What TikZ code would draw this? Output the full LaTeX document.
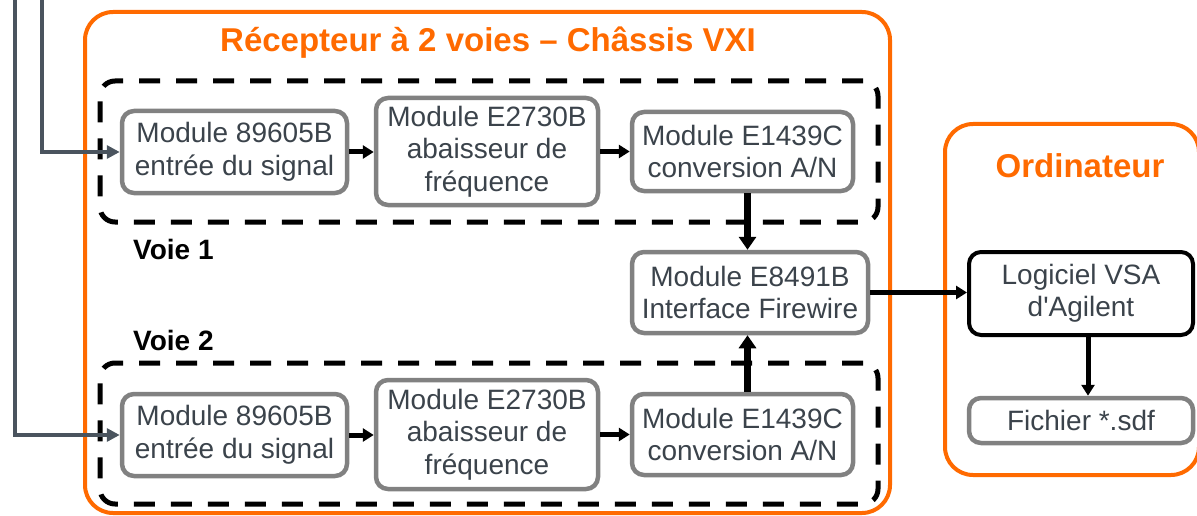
\documentclass[tikz,border=0pt]{standalone}
\usepackage{fontspec}
\setmainfont{Liberation Sans}
\newfontfamily\plainfont{Liberation Sans}
\usetikzlibrary{arrows.meta}
\definecolor{orng}{HTML}{FF6A00}
\definecolor{boxgray}{HTML}{818181}
\definecolor{txtgray}{HTML}{3B434B}
\definecolor{ingray}{HTML}{4A545E}
\tikzset{
  grp/.style={draw=orng, line width=4pt, rounded corners=28pt, inner sep=0pt},
  dashbox/.style={draw=black, line width=5pt, dash pattern=on 21pt off 16pt, rounded corners=15pt, inner sep=0pt},
  mod/.style={draw=boxgray, line width=4.5pt, rounded corners=12pt, fill=white, text=txtgray, align=center, inner sep=0pt, font=\fontsize{28}{32.5}\selectfont},
  soft/.style={mod, draw=black, line width=4pt},
  ttl/.style={text=orng, font=\fontsize{33}{38}\selectfont\bfseries, inner sep=0pt, anchor=base},
  voie/.style={text=black, font=\fontsize{28}{32}\selectfont\bfseries, inner sep=0pt, anchor=base west},
  flow/.style={draw=black, line width=5pt, -{Triangle[length=11pt,width=13pt]}},
  bigflow/.style={draw=black, line width=7pt, -{Triangle[length=13pt,width=17pt]}},
  inflow/.style={draw=ingray, line width=3.5pt, -{Triangle[length=13pt,width=13pt]}}
}
\begin{document}
\begin{tikzpicture}[x=1pt,y=-1pt]
\useasboundingbox (0,0) rectangle (1197,516);
% containers
\node[grp, minimum width=805pt, minimum height=501pt] (R) at (487.5,262.5) {};
\node[grp, minimum width=254pt, minimum height=351pt] (O) at (1072,299.5) {};
\node[dashbox, minimum width=778pt, minimum height=141pt] (V1) at (489,151.5) {};
\node[dashbox, minimum width=778pt, minimum height=141pt] (V2) at (489,433.5) {};
% titles
\node[ttl] (tR) at (488,52) {Récepteur à 2 voies – Châssis VXI};
\node[ttl] (tO) at (1080,178) {Ordinateur};
\node[voie] (l1) at (133,259) {Voie 1};
\node[voie] (l2) at (133,350) {Voie 2};
% row 1
\node[mod, minimum width=225pt, minimum height=82pt] (A1) at (234.5,152) {Module 89605B\\entrée du signal};
\node[mod, minimum width=222pt, minimum height=107pt] (B1) at (487,151.5) {Module E2730B\\abaisseur de\\fréquence};
\node[mod, minimum width=221pt, minimum height=79pt] (C1) at (742.5,151.5) {Module E1439C\\conversion A/N};
% row 2
\node[mod, minimum width=225pt, minimum height=82pt] (A2) at (234.5,435) {Module 89605B\\entrée du signal};
\node[mod, minimum width=222pt, minimum height=109pt] (B2) at (487,434.5) {Module E2730B\\abaisseur de\\fréquence};
\node[mod, minimum width=221pt, minimum height=81pt] (C2) at (742.5,434.5) {Module E1439C\\conversion A/N};
% firewire
\node[mod, minimum width=236pt, minimum height=81pt] (F) at (750,292.5) {Module E8491B\\Interface Firewire};
% computer
\node[soft, minimum width=224pt, minimum height=83pt] (L) at (1081,293.5) {Logiciel VSA\\{\plainfont d'Agilent}};
\node[mod, minimum width=224pt, minimum height=45pt] (Fi) at (1081,420.5) {Fichier *.sdf};
% inputs
\coordinate (in1) at (42,0);
\coordinate (in2) at (15,0);
\draw[inflow] (in1) |- (A1.west);
\draw[inflow] (in2) |- (A2.west);
% flows
\draw[flow] (A1.east) -- (A1.east -| B1.west);
\draw[flow] (B1.east |- C1.west) -- (C1.west);
\draw[flow] (A2.east) -- (A2.east -| B2.west);
\draw[flow] (B2.east |- C2.west) -- (C2.west);
\draw[bigflow] ([xshift=5pt]C1.south) -- ([xshift=5pt]C1.south |- F.north);
\draw[bigflow] ([xshift=5pt]C2.north) -- ([xshift=5pt]C2.north |- F.south);
\draw[flow] (F.east) -- (F.east -| L.west);
\draw[flow] ([xshift=7pt]L.south) -- ([xshift=7pt]L.south |- Fi.north);
\end{tikzpicture}
\end{document}
